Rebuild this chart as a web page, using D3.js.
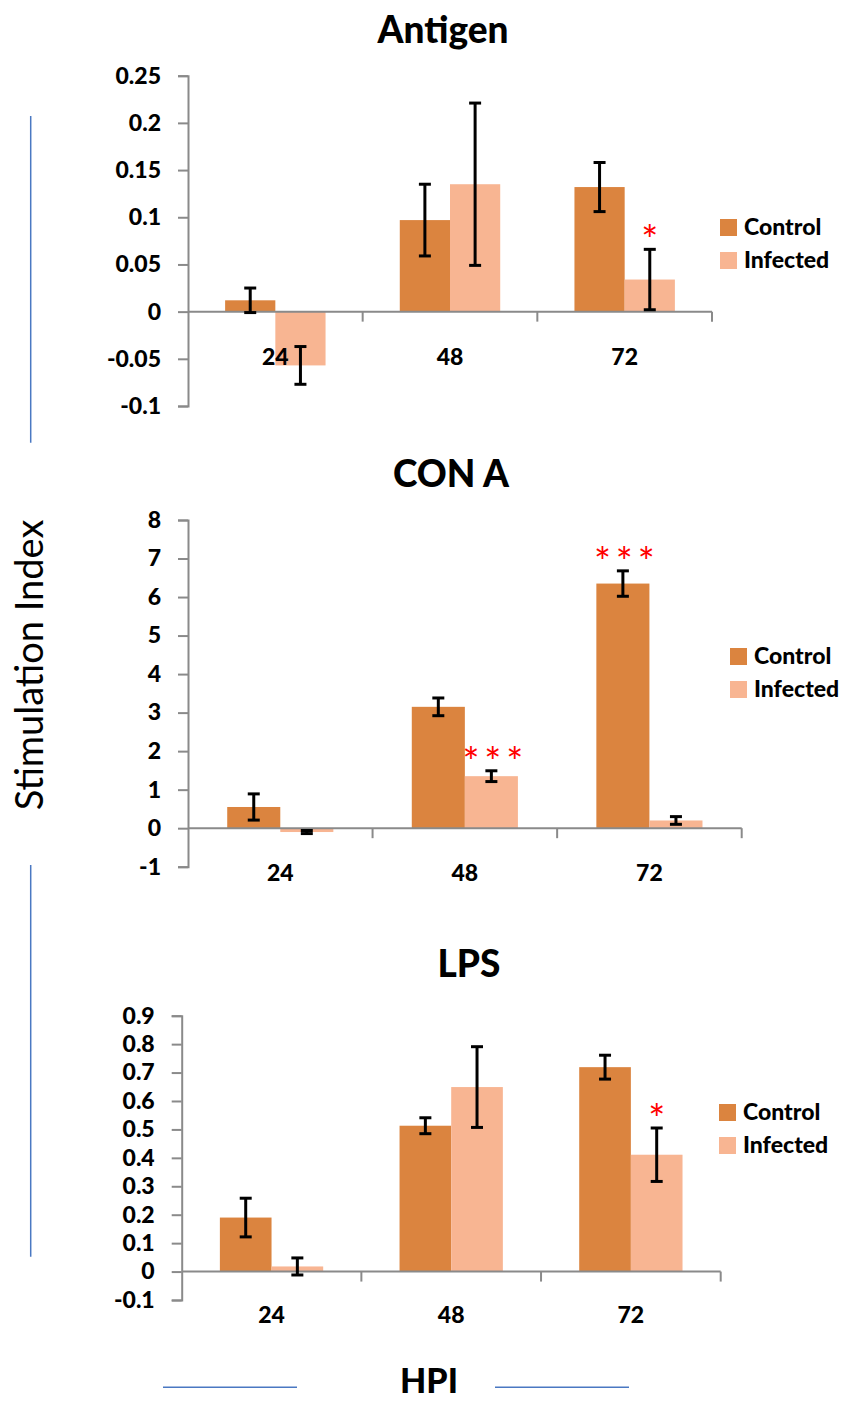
<!DOCTYPE html>
<html>
<head>
<meta charset="utf-8">
<script src="https://cdn.jsdelivr.net/npm/d3@7"></script>
<style>
  body { margin: 0; background: #fff; }
  svg { display: block; }
  text { font-family: Lato, 'Noto Sans', sans-serif; }
</style>
</head>
<body>
<svg id="chart"></svg>
<script>
const WIDTH = 853
const HEIGHT = 1403

// data
const hours = ['24', '48', '72']
const seriesNames = ['Control', 'Infected']

const antigenControl = [0.012, 0.097, 0.132]
const antigenControlErr = [0.013, 0.038, 0.026]
const antigenInfected = [-0.057, 0.135, 0.034]
const antigenInfectedErr = [0.02, 0.086, 0.032]
const antigenTicks = [-0.1, -0.05, 0, 0.05, 0.1, 0.15, 0.2, 0.25]
const antigenStars = [{ hour: '72', series: 'Infected', label: '*' }]

const conaControl = [0.55, 3.15, 6.35]
const conaControlErr = [0.34, 0.23, 0.33]
const conaInfected = [-0.1, 1.35, 0.2]
const conaInfectedErr = [0.04, 0.14, 0.1]
const conaTicks = [-1, 0, 1, 2, 3, 4, 5, 6, 7, 8]
const conaStars = [
    { hour: '48', series: 'Infected', label: '***' },
    { hour: '72', series: 'Control', label: '***' }
]

const lpsControl = [0.19, 0.513, 0.719]
const lpsControlErr = [0.068, 0.028, 0.042]
const lpsInfected = [0.018, 0.649, 0.411]
const lpsInfectedErr = [0.03, 0.142, 0.094]
const lpsTicks = [-0.1, 0, 0.1, 0.2, 0.3, 0.4, 0.5, 0.6, 0.7, 0.8, 0.9]
const lpsStars = [{ hour: '72', series: 'Infected', label: '*' }]

const colors = { Control: '#DB843F', Infected: '#F8B592' }
const axisColor = '#8a8a8a'
const guideColor = '#4a78c2'
const BOLD = 900

const makeRows = (control, controlErr, infected, infectedErr) => {
    const rows = []
    hours.forEach((h, i) => {
        rows.push({ hour: h, series: 'Control', value: control[i], err: controlErr[i] })
        rows.push({ hour: h, series: 'Infected', value: infected[i], err: infectedErr[i] })
    })
    return rows
}

const panels = [
    {
        title: 'Antigen', rows: makeRows(antigenControl, antigenControlErr, antigenInfected, antigenInfectedErr),
        ticks: antigenTicks, stars: antigenStars,
        left: 188, right: 712, top: 75.7, bottom: 406,
        titleX: 443, titleY: 43, labelY: 365, legendX: 720, legendY: 219
    },
    {
        title: 'CON A', rows: makeRows(conaControl, conaControlErr, conaInfected, conaInfectedErr),
        ticks: conaTicks, stars: conaStars,
        left: 188, right: 741.7, top: 520, bottom: 866.7,
        titleX: 451, titleY: 487, labelY: 881, legendX: 730, legendY: 648
    },
    {
        title: 'LPS', rows: makeRows(lpsControl, lpsControlErr, lpsInfected, lpsInfectedErr),
        ticks: lpsTicks, stars: lpsStars,
        left: 181.7, right: 720.7, top: 1015.7, bottom: 1300,
        titleX: 469, titleY: 977, labelY: 1323, legendX: 719, legendY: 1104
    }
]

const svg = d3.select('#chart')
    .attr('width', WIDTH)
    .attr('height', HEIGHT)

const fmt = d => String(+d.toFixed(2))

const drawPanel = p => {
    const g = svg.append('g')

    const y = d3.scaleLinear()
        .domain(d3.extent(p.ticks))
        .range([p.bottom, p.top])

    const x = d3.scaleBand()
        .domain(hours)
        .range([p.left, p.right])
        .paddingInner(0.425)
        .paddingOuter(0.2125)

    const xs = d3.scaleBand()
        .domain(seriesNames)
        .range([0, x.bandwidth()])

    // title
    g.append('text')
        .attr('x', p.titleX)
        .attr('y', p.titleY)
        .attr('text-anchor', 'middle')
        .attr('font-size', 37)
        .attr('font-weight', BOLD)
        .text(p.title)

    // bars
    g.selectAll('rect.bar')
        .data(p.rows)
        .join('rect')
        .attr('class', 'bar')
        .attr('x', d => x(d.hour) + xs(d.series))
        .attr('width', xs.bandwidth())
        .attr('y', d => y(Math.max(0, d.value)))
        .attr('height', d => Math.abs(y(d.value) - y(0)))
        .attr('fill', d => colors[d.series])

    // y axis
    const yAxis = g.append('g')
        .attr('transform', `translate(${p.left},0)`)
        .call(d3.axisLeft(y).tickValues(p.ticks).tickFormat(fmt).tickSize(10).tickPadding(17))
    yAxis.select('.domain').attr('stroke', axisColor).attr('stroke-width', 2)
    yAxis.selectAll('.tick line').attr('stroke', axisColor).attr('stroke-width', 2)
    yAxis.selectAll('.tick text')
        .attr('fill', '#000')
        .attr('font-size', 23)
        .attr('font-weight', BOLD)
        .attr('font-family', 'Lato, sans-serif')

    // x axis line at zero with ticks on the category boundaries
    const y0 = y(0)
    g.append('line')
        .attr('x1', p.left).attr('x2', p.right)
        .attr('y1', y0).attr('y2', y0)
        .attr('stroke', axisColor).attr('stroke-width', 2)
    const bounds = d3.range(hours.length + 1).map(i => p.left + i * x.step())
    g.selectAll('line.xtick')
        .data(bounds.slice(1))
        .join('line')
        .attr('class', 'xtick')
        .attr('x1', d => d).attr('x2', d => d)
        .attr('y1', y0).attr('y2', y0 + 10)
        .attr('stroke', axisColor).attr('stroke-width', 2)

    g.selectAll('text.xlabel')
        .data(hours)
        .join('text')
        .attr('class', 'xlabel')
        .attr('x', d => x(d) + x.bandwidth() / 2)
        .attr('y', p.labelY)
        .attr('text-anchor', 'middle')
        .attr('font-size', 23)
        .attr('font-weight', BOLD)
        .text(d => d)

    // error bars
    const cx = d => x(d.hour) + xs(d.series) + xs.bandwidth() / 2
    const eb = g.selectAll('g.err')
        .data(p.rows)
        .join('g')
        .attr('class', 'err')
        .attr('stroke', '#000')
        .attr('stroke-width', 3)
    eb.append('line')
        .attr('x1', cx).attr('x2', cx)
        .attr('y1', d => y(d.value + d.err))
        .attr('y2', d => y(d.value - d.err))
    eb.append('line')
        .attr('x1', d => cx(d) - 6).attr('x2', d => cx(d) + 6)
        .attr('y1', d => y(d.value + d.err)).attr('y2', d => y(d.value + d.err))
    eb.append('line')
        .attr('x1', d => cx(d) - 6).attr('x2', d => cx(d) + 6)
        .attr('y1', d => y(d.value - d.err)).attr('y2', d => y(d.value - d.err))

    // significance stars
    const byKey = new Map(p.rows.map(r => [r.hour + r.series, r]))
    g.selectAll('text.star')
        .data(p.stars)
        .join('text')
        .attr('class', 'star')
        .attr('x', d => cx(byKey.get(d.hour + d.series)) + (d.label.length > 1 ? 4 : 0))
        .attr('y', d => {
            const r = byKey.get(d.hour + d.series)
            return y(r.value + r.err) + 6
        })
        .attr('text-anchor', 'middle')
        .attr('fill', '#ff0000')
        .attr('font-size', 40)
        .attr('letter-spacing', d => d.label.length > 1 ? 5 : 0)
        .text(d => d.label)

    // legend
    const lg = g.selectAll('g.legend')
        .data(seriesNames)
        .join('g')
        .attr('class', 'legend')
        .attr('transform', (d, i) => `translate(${p.legendX},${p.legendY + i * 33})`)
    lg.append('rect')
        .attr('width', 17).attr('height', 17)
        .attr('fill', d => colors[d])
    lg.append('text')
        .attr('x', 24).attr('y', 16)
        .attr('font-size', 23)
        .attr('font-weight', BOLD)
        .text(d => d)
}

panels.forEach(drawPanel)

// shared axis titles
svg.append('text')
    .attr('transform', 'translate(43,665) rotate(-90)')
    .attr('text-anchor', 'middle')
    .attr('font-size', 38)
    .text('Stimulation Index')

svg.append('text')
    .attr('x', 429)
    .attr('y', 1393)
    .attr('text-anchor', 'middle')
    .attr('font-size', 34)
    .attr('font-weight', BOLD)
    .text('HPI')

// blue guide strokes around the axis titles
const guides = [
    [30.7, 116, 30.7, 442.7],
    [30.7, 865, 30.7, 1256.7],
    [163, 1387.3, 297, 1387.3],
    [495, 1387.3, 629, 1387.3]
]
svg.selectAll('line.guide')
    .data(guides)
    .join('line')
    .attr('class', 'guide')
    .attr('x1', d => d[0]).attr('y1', d => d[1])
    .attr('x2', d => d[2]).attr('y2', d => d[3])
    .attr('stroke', guideColor)
    .attr('stroke-width', 1.5)
</script>
</body>
</html>
